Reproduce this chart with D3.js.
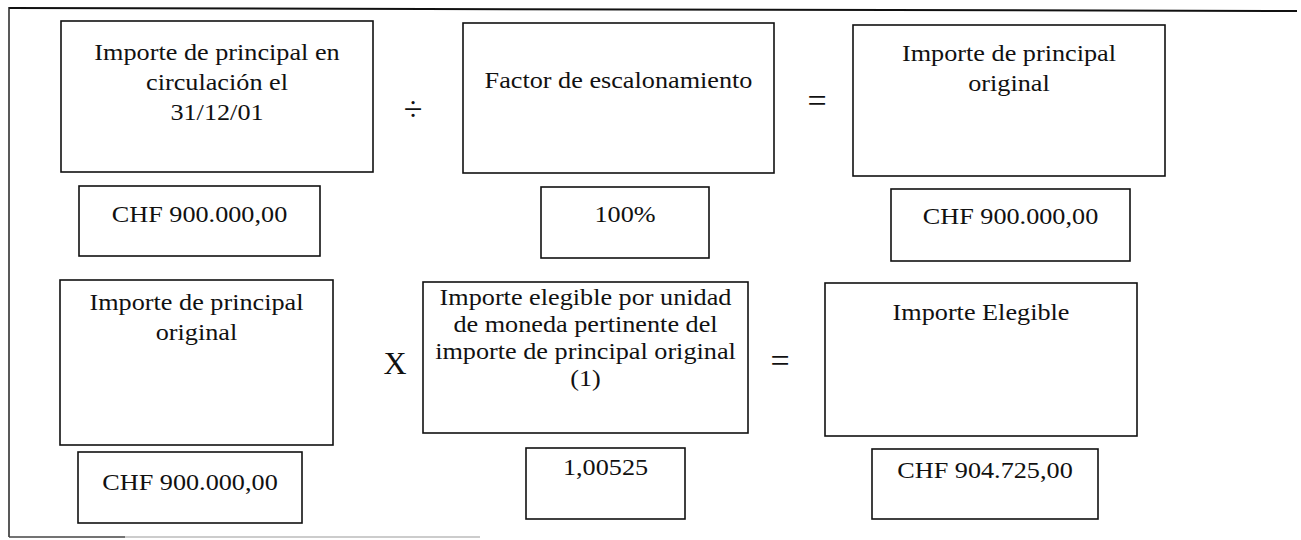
<!DOCTYPE html>
<html><head><meta charset="utf-8">
<script src="https://cdn.jsdelivr.net/npm/d3@7/dist/d3.min.js"></script>
<style>html,body{margin:0;padding:0;background:#fff;}svg{display:block;}
text{font-family:"Liberation Serif","Times New Roman",Times,"DejaVu Serif",serif;}</style>
</head><body>
<svg id="c" width="1301" height="540"></svg>
<script>
// ---- content ----
const labels = [
  ["Importe de principal en", "circulación el", "31/12/01"],
  ["Factor de escalonamiento"],
  ["Importe de principal", "original"],
  ["Importe de principal", "original"],
  ["Importe elegible por unidad", "de moneda pertinente del", "importe de principal original", "(1)"],
  ["Importe Elegible"]
];
const values = ["CHF 900.000,00", "100%", "CHF 900.000,00", "CHF 900.000,00", "1,00525", "CHF 904.725,00"];
const operators = ["÷", "=", "X", "="];

// ---- layout (positions/sizes, kept separate) ----
const boxLayout = [
  {x:61,  y:21,  w:312, h:151, ty:52,  lh:30},
  {x:463, y:23,  w:311, h:150, ty:80,  lh:30},
  {x:853, y:25,  w:312, h:151, ty:53,  lh:30},
  {x:60,  y:280, w:273, h:165, ty:302, lh:30},
  {x:423, y:282, w:325, h:151, ty:297, lh:27},
  {x:825, y:283, w:312, h:153, ty:312, lh:30}
];
const valLayout = [
  {x:79,  y:186, w:241, h:70, ty:214},
  {x:541, y:187, w:168, h:71, ty:214},
  {x:891, y:189, w:239, h:72, ty:216},
  {x:78,  y:452, w:224, h:71, ty:482},
  {x:526, y:448, w:159, h:71, ty:467},
  {x:872, y:449, w:226, h:70, ty:470}
];
const opLayout = [
  {x:413, y:108, fs:34},
  {x:817, y:100, fs:34},
  {x:395, y:363, fs:32},
  {x:780, y:360, fs:34}
];

const svg = d3.select("#c");
const sx = 1.14;
const fs = 23;

// outer frame
svg.append("line").attr("x1",9).attr("y1",8).attr("x2",1297).attr("y2",11)
  .attr("stroke","#111").attr("stroke-width",2);
svg.append("line").attr("x1",9).attr("y1",7).attr("x2",9).attr("y2",537)
  .attr("stroke","#222").attr("stroke-width",1.5);
svg.append("line").attr("x1",9).attr("y1",537).attr("x2",125).attr("y2",537)
  .attr("stroke","#444").attr("stroke-width",1.5);
svg.append("line").attr("x1",125).attr("y1",537).attr("x2",480).attr("y2",537)
  .attr("stroke","#bbb").attr("stroke-width",1.5);

function drawBox(g, b) {
  g.append("rect").attr("x",b.x).attr("y",b.y).attr("width",b.w).attr("height",b.h)
    .attr("fill","none").attr("stroke","#111").attr("stroke-width",1.6);
}

// big boxes
labels.forEach((lines, i) => {
  const b = boxLayout[i];
  const g = svg.append("g");
  drawBox(g, b);
  const cx = b.x + b.w/2;
  lines.forEach((t, j) => {
    g.append("text")
      .attr("transform", `translate(${cx},${b.ty + j*b.lh}) scale(${sx},1)`)
      .attr("text-anchor","middle").attr("dy","0.35em")
      .style("font-size",fs+"px").attr("fill","#111")
      .text(t);
  });
});

// value boxes
values.forEach((v, i) => {
  const b = valLayout[i];
  const g = svg.append("g");
  drawBox(g, b);
  g.append("text")
    .attr("transform", `translate(${b.x + b.w/2},${b.ty}) scale(${sx},1)`)
    .attr("text-anchor","middle").attr("dy","0.35em")
    .style("font-size",fs+"px").attr("fill","#111")
    .text(v);
});

// operators
operators.forEach((o, i) => {
  const p = opLayout[i];
  svg.append("text")
    .attr("x",p.x).attr("y",p.y).attr("dy","0.35em")
    .attr("text-anchor","middle")
    .style("font-size",p.fs+"px").attr("fill","#111")
    .text(o);
});
</script>
</body></html>
